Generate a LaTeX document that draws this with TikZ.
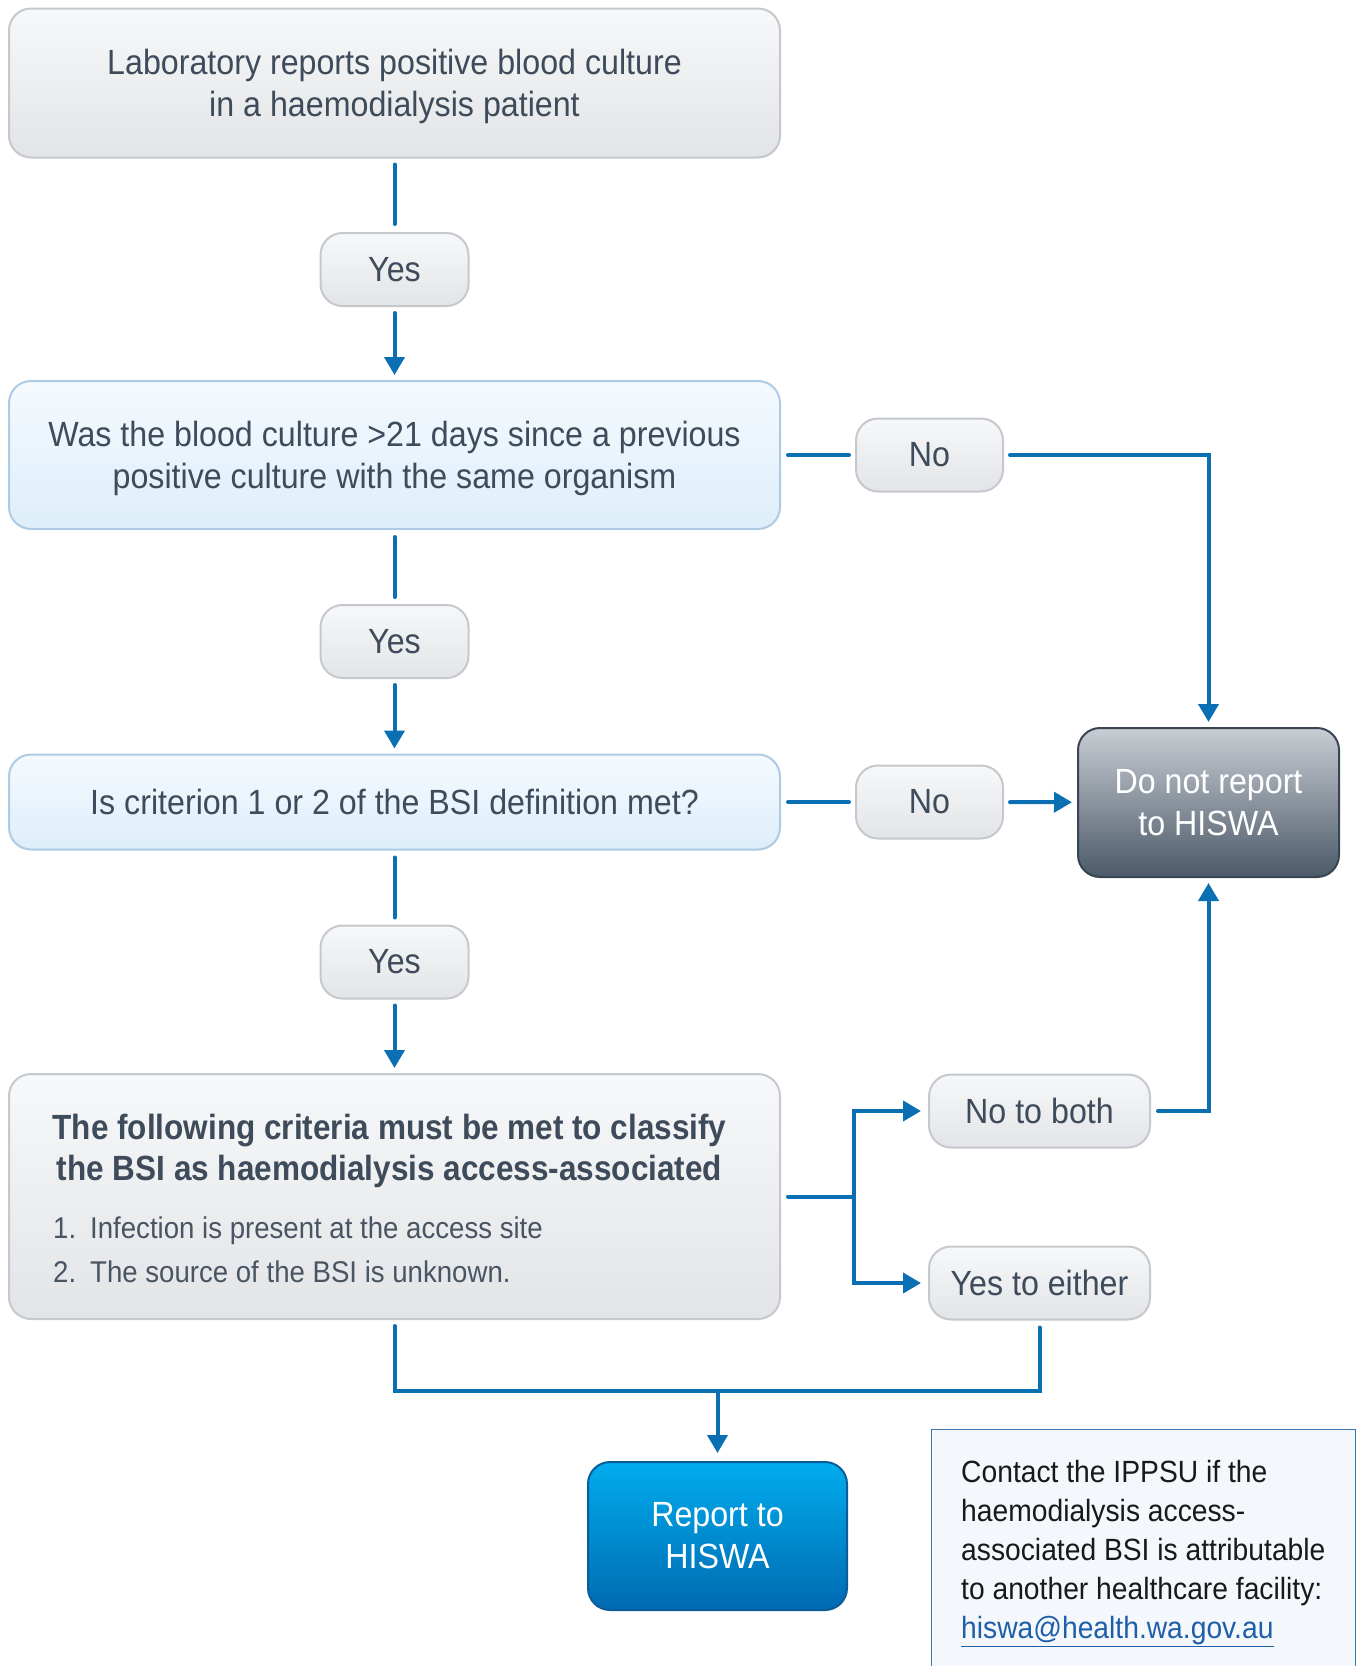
\documentclass[tikz,border=0pt]{standalone}
\usepackage{fontspec}
\setmainfont{Liberation Sans}[FakeStretch=0.92, BoldFeatures={FakeStretch=0.90}]
\usetikzlibrary{arrows.meta}
\definecolor{txt}{HTML}{3E4B5B}
\definecolor{txtl}{HTML}{4A5563}
\definecolor{gtop}{HTML}{F7F8F9}
\definecolor{gbot}{HTML}{E2E4E7}
\definecolor{gborder}{HTML}{C5C8CD}
\definecolor{btop}{HTML}{F5FAFE}
\definecolor{bbot}{HTML}{DDEEFA}
\definecolor{bborder}{HTML}{AECBE6}
\definecolor{dtop}{HTML}{C9CDD3}
\definecolor{dbot}{HTML}{4B5968}
\definecolor{dborder}{HTML}{3A4553}
\definecolor{rtop}{HTML}{00ADEE}
\definecolor{rbot}{HTML}{0069B1}
\definecolor{rborder}{HTML}{0B5C9A}
\definecolor{nfill}{HTML}{F4F7FB}
\definecolor{nborder}{HTML}{3B78B0}
\definecolor{lblue}{HTML}{0A6FB3}
\definecolor{linkc}{HTML}{1F5FA8}
\begin{document}
\begin{tikzpicture}[x=1pt,y=-1pt,
  mainfont/.style={font=\fontsize{35}{42}\selectfont},
  box/.style={mainfont, rounded corners=22pt, line width=2pt, inner sep=0pt, align=center, text=txt},
  greybox/.style={box, draw=gborder, top color=gtop, bottom color=gbot},
  bluebox/.style={box, draw=bborder, top color=btop, bottom color=bbot},
  wide/.style={minimum width=771},
  small/.style={minimum height=73},
  conn/.style={draw=lblue, line width=4pt, line cap=round},
  arr/.style={conn, -{Triangle[width=20pt,length=18pt]}},
]
\useasboundingbox (0,0) rectangle (1360,1666);

% main column
\node[greybox, wide, minimum height=149, text depth=0pt] (b1) at (394.5,83) {Laboratory reports positive blood culture\\in a haemodialysis patient};
\node[greybox, small, minimum width=148] (y1) at (394.5,269.5) {Yes};
\node[bluebox, wide, minimum height=148, text depth=0pt] (b2) at (394.5,455) {Was the blood culture >21 days since a previous\\positive culture with the same organism};
\node[greybox, small, minimum width=148] (y2) at (394.5,641.5) {Yes};
\node[bluebox, wide, minimum height=95] (b3) at (394.5,802) {Is criterion 1 or 2 of the BSI definition met?};
\node[greybox, small, minimum width=148] (y3) at (394.5,962) {Yes};
\node[greybox, wide, minimum height=245] (b4) at (394.5,1196.5) {};
\node[font=\fontsize{35}{41}\selectfont\bfseries, text=txt, align=center, anchor=north, inner sep=0pt] (b4t) at (389.5,1114) {The following criteria must be met to classify\\the BSI as haemodialysis access-associated};
\node[font=\fontsize{30}{36}\selectfont, text=txtl, anchor=base west, inner sep=0pt] (b4n1) at (53,1238) {1.};
\node[font=\fontsize{30}{36}\selectfont, text=txtl, anchor=base west, inner sep=0pt] (b4i1) at (90,1238) {Infection is present at the access site};
\node[font=\fontsize{30}{36}\selectfont, text=txtl, anchor=base west, inner sep=0pt] (b4n2) at (53,1282) {2.};
\node[font=\fontsize{30}{36}\selectfont, text=txtl, anchor=base west, inner sep=0pt] (b4i2) at (90,1282) {The source of the BSI is unknown.};

% right side
\node[greybox, small, minimum width=147] (n1) at (929.5,455) {No};
\node[greybox, small, minimum width=147] (n2) at (929.5,802) {No};
\node[box, draw=dborder, top color=dtop, bottom color=dbot, text=white, minimum width=261, minimum height=149] (dn) at (1208.5,802.5) {Do not report\\to HISWA};
\node[greybox, small, minimum width=221] (nb) at (1039.5,1111) {No to both};
\node[greybox, small, minimum width=221] (ye) at (1039.5,1283) {Yes to either};
\node[box, draw=rborder, top color=rtop, bottom color=rbot, text=white, minimum width=259, minimum height=148] (rep) at (717.5,1536) {Report to\\HISWA};

% note
\node[draw=nborder, fill=nfill, line width=1.2pt, anchor=north west, minimum width=424, minimum height=260, inner sep=0pt] (note) at (931,1429) {};
\node[font=\fontsize{30.7}{39}\selectfont, text=black!90, align=left, anchor=north west, inner sep=0pt] (notet) at (961,1460) {Contact the IPPSU if the\\haemodialysis access-\\associated BSI is attributable\\to another healthcare facility:\\{\color{linkc}\underline{hiswa@health.wa.gov.au}}};

\coordinate (merge) at (717.5,1391);
\coordinate (split) at (854,1196.5);

% connectors
\draw[conn, shorten <=6pt, shorten >=8pt] (b1) -- (y1);
\draw[arr, shorten <=6pt, shorten >=5pt] (y1) -- (b2);
\draw[conn, shorten <=7pt, shorten >=7pt] (b2) -- (y2);
\draw[arr, shorten <=6pt, shorten >=5pt] (y2) -- (b3);
\draw[conn, shorten <=7pt, shorten >=7pt] (b3) -- (y3);
\draw[arr, shorten <=6pt, shorten >=5pt] (y3) -- (b4);

\draw[conn, shorten <=7pt, shorten >=6pt] (b2) -- (n1);
\draw[arr, shorten <=6pt, shorten >=5pt] (n1.east) -| (dn.north);
\draw[conn, shorten <=7pt, shorten >=6pt] (b3) -- (n2);
\draw[arr, shorten <=6pt, shorten >=5pt] (n2) -- (dn);

\draw[conn, shorten <=7pt] (b4.east) -- (split);
\draw[arr, shorten >=7pt] (split) |- (nb.west);
\draw[arr, shorten >=7pt] (split) |- (ye.west);
\draw[arr, shorten <=7pt, shorten >=5pt] (nb.east) -| (dn.south);

\draw[conn, shorten <=6pt, shorten >=7pt] (b4.south) |- (merge) -| (ye.south);
\draw[arr, shorten >=8pt] (merge) -- (rep.north);
\end{tikzpicture}
\end{document}
